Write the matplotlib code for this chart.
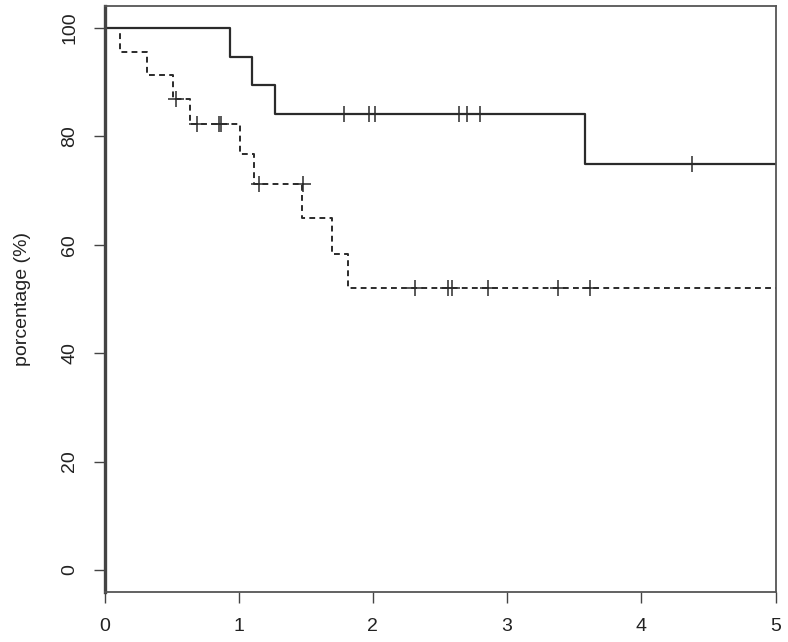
import matplotlib
matplotlib.use('Agg')
import matplotlib.pyplot as plt

plt.rcParams['font.family'] = ['Liberation Sans', 'DejaVu Sans']

# group 1 (solid): step times and survival (%) after each step
solid_t = [0, 0.935, 1.10, 1.27, 3.58, 5.0]
solid_s = [100, 94.7, 89.5, 84.2, 74.9, 74.9]
solid_cens_t = [1.787, 1.973, 2.018, 2.644, 2.703, 2.798, 4.38]
solid_cens_s = [84.2, 84.2, 84.2, 84.2, 84.2, 84.2, 74.9]

# group 2 (dashed)
dash_t = [0, 0.116, 0.32, 0.513, 0.637, 1.01, 1.114, 1.469, 1.693, 1.817, 5.0]
dash_s = [100, 95.6, 91.3, 86.9, 82.3, 76.8, 71.3, 64.9, 58.3, 52.0, 52.0]
dash_cens_t = [0.533, 0.687, 0.85, 0.865, 1.153, 1.477,
               2.315, 2.562, 2.587, 2.86, 3.38, 3.62]
dash_cens_s = [86.9, 82.3, 82.3, 82.3, 71.3, 71.3,
               52.0, 52.0, 52.0, 52.0, 52.0, 52.0]

xticks = [0, 1, 2, 3, 4, 5]
yticks = [0, 20, 40, 60, 80, 100]

fig = plt.figure(figsize=(7.88, 6.42), dpi=100)
ax = fig.add_axes([104.5 / 788, 50 / 642, 671 / 788, 586 / 642])

line_col = '#2b2b2b'
ax.step(solid_t, solid_s, where='post', color=line_col, lw=1.6)
ax.step(dash_t, dash_s, where='post', color=line_col, lw=1.4,
        linestyle=(0, (3, 2.2)))
ax.plot(solid_cens_t, solid_cens_s, '+', color=line_col, ms=11, mew=1.1)
ax.plot(dash_cens_t, dash_cens_s, '+', color=line_col, ms=11, mew=1.1)

ax.set_xlim(0, 5)
ax.set_ylim(-4.06, 104.06)
ax.set_xticks(xticks)
ax.set_yticks(yticks)
ax.set_yticklabels([str(v) for v in yticks], rotation=90, va='center')
ax.tick_params(axis='both', labelsize=14, length=8, width=1.0,
               color='#444444', labelcolor='#222222')
ax.tick_params(axis='x', pad=11)
ax.tick_params(axis='y', pad=11)

for name, sp in ax.spines.items():
    sp.set_color('#555555')
    sp.set_linewidth(1.3)
ax.spines['left'].set_linewidth(2.4)
ax.spines['left'].set_color('#444444')

ax.set_ylabel('porcentage (%)', fontsize=14, color='#222222', labelpad=22)

fig.savefig('out.png', dpi=100)
